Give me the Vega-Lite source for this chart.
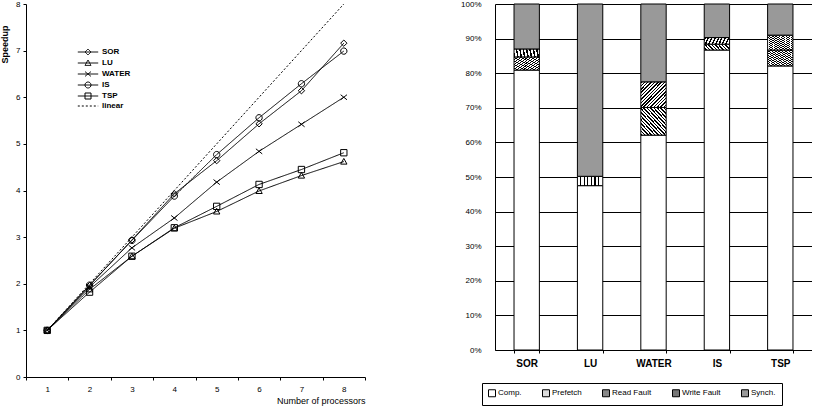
{
  "$schema": "https://vega.github.io/schema/vega-lite/v6.json",
  "padding": 0,
  "background": "white",
  "spacing": 94,
  "config": {
    "view": {"stroke": null},
    "font": "Liberation Sans",
    "axis": {"domainColor": "black", "tickColor": "black", "labelColor": "black", "titleColor": "black", "labelFont": "Liberation Sans", "titleFont": "Liberation Sans", "domainWidth": 1, "tickWidth": 1},
    "legend": {"labelFont": "Liberation Sans", "labelColor": "black"}
  },
  "hconcat": [
    {
      "width": 339,
      "height": 373,
      "data": {
        "values": [
          {"series": "SOR", "p": 1, "s": 1}, {"series": "SOR", "p": 2, "s": 1.96}, {"series": "SOR", "p": 3, "s": 2.94}, {"series": "SOR", "p": 4, "s": 3.93}, {"series": "SOR", "p": 5, "s": 4.64}, {"series": "SOR", "p": 6, "s": 5.43}, {"series": "SOR", "p": 7, "s": 6.14}, {"series": "SOR", "p": 8, "s": 7.16},
          {"series": "LU", "p": 1, "s": 1}, {"series": "LU", "p": 2, "s": 1.88}, {"series": "LU", "p": 3, "s": 2.59}, {"series": "LU", "p": 4, "s": 3.19}, {"series": "LU", "p": 5, "s": 3.55}, {"series": "LU", "p": 6, "s": 3.99}, {"series": "LU", "p": 7, "s": 4.32}, {"series": "LU", "p": 8, "s": 4.62},
          {"series": "WATER", "p": 1, "s": 1}, {"series": "WATER", "p": 2, "s": 1.93}, {"series": "WATER", "p": 3, "s": 2.77}, {"series": "WATER", "p": 4, "s": 3.41}, {"series": "WATER", "p": 5, "s": 4.18}, {"series": "WATER", "p": 6, "s": 4.84}, {"series": "WATER", "p": 7, "s": 5.42}, {"series": "WATER", "p": 8, "s": 6.0},
          {"series": "IS", "p": 1, "s": 1}, {"series": "IS", "p": 2, "s": 1.97}, {"series": "IS", "p": 3, "s": 2.93}, {"series": "IS", "p": 4, "s": 3.88}, {"series": "IS", "p": 5, "s": 4.77}, {"series": "IS", "p": 6, "s": 5.56}, {"series": "IS", "p": 7, "s": 6.29}, {"series": "IS", "p": 8, "s": 6.99},
          {"series": "TSP", "p": 1, "s": 1}, {"series": "TSP", "p": 2, "s": 1.82}, {"series": "TSP", "p": 3, "s": 2.59}, {"series": "TSP", "p": 4, "s": 3.2}, {"series": "TSP", "p": 5, "s": 3.66}, {"series": "TSP", "p": 6, "s": 4.13}, {"series": "TSP", "p": 7, "s": 4.45}, {"series": "TSP", "p": 8, "s": 4.81},
          {"series": "linear", "p": 1, "s": 1}, {"series": "linear", "p": 2, "s": 2}, {"series": "linear", "p": 3, "s": 3}, {"series": "linear", "p": 4, "s": 4}, {"series": "linear", "p": 5, "s": 5}, {"series": "linear", "p": 6, "s": 6}, {"series": "linear", "p": 7, "s": 7}, {"series": "linear", "p": 8, "s": 8}
        ]
      },
      "encoding": {
        "x": {
          "field": "p", "type": "ordinal", "bandPosition": 0.5,
          "scale": {"type": "band", "paddingInner": 0, "paddingOuter": 0},
          "axis": {"title": "Number of processors", "titleAnchor": "end", "titleFontSize": 9, "titleFontWeight": "normal", "titlePadding": 3, "labelAngle": 0, "labelFontSize": 8, "labelPadding": 5, "tickSize": 3, "tickBand": "extent", "grid": false}
        },
        "y": {
          "field": "s", "type": "quantitative",
          "scale": {"domain": [0, 8], "nice": false},
          "axis": {"title": "Speedup", "titleFontWeight": "bold", "titleFontSize": 9, "titleAngle": -90, "titleX": -22, "titleY": 40, "titleAlign": "center", "titleBaseline": "middle", "values": [0, 1, 2, 3, 4, 5, 6, 7, 8], "tickSize": 3, "labelFontSize": 8, "labelPadding": 3, "grid": false}
        }
      },
      "layer": [
        {
          "mark": {"type": "line", "color": "black"},
          "encoding": {
            "strokeDash": {
              "field": "series", "type": "nominal",
              "scale": {"domain": ["SOR", "LU", "WATER", "IS", "TSP", "linear"], "range": [[1, 0], [1, 0], [1, 0], [1, 0], [1, 0], [2, 2]]},
              "legend": {
                "orient": "none", "legendX": 58, "legendY": 44, "title": null,
                "symbolSize": 36, "symbolStrokeColor": "black", "symbolStrokeWidth": 1, "symbolFillColor": "transparent",
                "labelFontSize": 8, "labelFontWeight": "bold", "labelOffset": 10, "rowPadding": 1,
                "encode": {
                  "symbols": {
                    "update": {
                      "shape": {"signal": "datum.value === 'SOR' ? 'M-3.4,0H3.4M-1,0L0,-1L1,0L0,1Z' : datum.value === 'LU' ? 'M-3.4,0H3.4M0,-1L1,0.8L-1,0.8Z' : datum.value === 'WATER' ? 'M-3.4,0H3.4M-1,-0.8L1,0.8M-1,0.8L1,-0.8' : datum.value === 'IS' ? 'M-3.4,0H3.4M1,0A1,1,0,1,1,-1,0A1,1,0,1,1,1,0Z' : datum.value === 'TSP' ? 'M-3.4,0H3.4M-1,-1H1V1H-1Z' : 'M-3.4,0H3.4'"},
                      "stroke": {"value": "black"},
                      "fill": {"value": "transparent"}
                    }
                  }
                }
              }
            },
            "strokeWidth": {
              "field": "series", "type": "nominal",
              "scale": {"domain": ["SOR", "LU", "WATER", "IS", "TSP", "linear"], "range": [1, 1, 1, 1, 1, 1.6]},
              "legend": null
            }
          }
        },
        {
          "transform": [{"filter": "datum.series !== 'linear'"}],
          "mark": {"type": "point", "filled": false, "color": "black", "strokeWidth": 1, "opacity": 1},
          "encoding": {
            "shape": {
              "field": "series", "type": "nominal",
              "scale": {"domain": ["SOR", "LU", "WATER", "IS", "TSP"], "range": ["M-1,0L0,-1L1,0L0,1Z", "M0,-1L1,0.8L-1,0.8Z", "M-1,-0.8L1,0.8M-1,0.8L1,-0.8", "M1,0A1,1,0,1,1,-1,0A1,1,0,1,1,1,0Z", "M-1,-1H1V1H-1Z"]},
              "legend": null
            },
            "size": {"value": 40}
          }
        }
      ]
    },
    {
      "width": 317,
      "height": 346,
      "data": {
        "values": [
          {"app": "SOR", "comp": "Comp.", "k": 0, "v": 80.9},
          {"app": "SOR", "comp": "Read Fault", "k": 2, "v": 3.8},
          {"app": "SOR", "comp": "Write Fault", "k": 3, "v": 2.3},
          {"app": "SOR", "comp": "Synch.", "k": 4, "v": 13.0},
          {"app": "LU", "comp": "Comp.", "k": 0, "v": 47.5},
          {"app": "LU", "comp": "Prefetch", "k": 1, "v": 2.7},
          {"app": "LU", "comp": "Synch.", "k": 4, "v": 49.8},
          {"app": "WATER", "comp": "Comp.", "k": 0, "v": 62.1},
          {"app": "WATER", "comp": "Read Fault", "k": 2, "v": 8.0},
          {"app": "WATER", "comp": "Write Fault", "k": 3, "v": 7.4},
          {"app": "WATER", "comp": "Synch.", "k": 4, "v": 22.5},
          {"app": "IS", "comp": "Comp.", "k": 0, "v": 86.7},
          {"app": "IS", "comp": "Read Fault", "k": 2, "v": 1.7},
          {"app": "IS", "comp": "Write Fault", "k": 3, "v": 1.9},
          {"app": "IS", "comp": "Synch.", "k": 4, "v": 9.7},
          {"app": "TSP", "comp": "Comp.", "k": 0, "v": 82.1},
          {"app": "TSP", "comp": "Read Fault", "k": 2, "v": 4.6},
          {"app": "TSP", "comp": "Write Fault", "k": 3, "v": 4.3},
          {"app": "TSP", "comp": "Synch.", "k": 4, "v": 9.0}
        ]
      },
      "mark": {"type": "bar", "stroke": "black", "strokeWidth": 1},
      "encoding": {
        "x": {
          "field": "app", "type": "nominal", "sort": ["SOR", "LU", "WATER", "IS", "TSP"],
          "scale": {"paddingInner": 0.6, "paddingOuter": 0.3},
          "axis": {"title": null, "labelAngle": 0, "labelFontWeight": "bold", "labelFontSize": 10, "tickBand": "extent", "tickSize": 3, "labelPadding": 5}
        },
        "y": {
          "field": "v", "type": "quantitative", "stack": "zero",
          "scale": {"domain": [0, 100], "nice": false},
          "axis": {"title": null, "values": [0, 10, 20, 30, 40, 50, 60, 70, 80, 90, 100], "labelExpr": "datum.value + '%'", "grid": true, "gridColor": "black", "gridWidth": 1, "gridOpacity": 1, "ticks": false, "labelPadding": 14, "labelFontSize": 8}
        },
        "fill": {
          "field": "comp", "type": "nominal",
          "scale": {
            "domain": ["Comp.", "Prefetch", "Read Fault", "Write Fault", "Synch."],
            "range": ["white", "#dddddd", "#888888", "#777777", "#999999"]
          },
          "condition": [
            {"test": "datum.comp === 'Prefetch'", "value": {"gradient": "linear", "x1": 0, "y1": 0, "x2": 1, "y2": 0, "stops": [
                {"offset": 0, "color": "white"}, {"offset": 0.1, "color": "white"}, {"offset": 0.1, "color": "black"}, {"offset": 0.143, "color": "black"}, {"offset": 0.143, "color": "white"},
                {"offset": 0.243, "color": "white"}, {"offset": 0.243, "color": "black"}, {"offset": 0.286, "color": "black"}, {"offset": 0.286, "color": "white"},
                {"offset": 0.386, "color": "white"}, {"offset": 0.386, "color": "black"}, {"offset": 0.429, "color": "black"}, {"offset": 0.429, "color": "white"},
                {"offset": 0.529, "color": "white"}, {"offset": 0.529, "color": "black"}, {"offset": 0.571, "color": "black"}, {"offset": 0.571, "color": "white"},
                {"offset": 0.671, "color": "white"}, {"offset": 0.671, "color": "black"}, {"offset": 0.714, "color": "black"}, {"offset": 0.714, "color": "white"},
                {"offset": 0.814, "color": "white"}, {"offset": 0.814, "color": "black"}, {"offset": 0.857, "color": "black"}, {"offset": 0.857, "color": "white"},
                {"offset": 1, "color": "white"}
              ]}},
            {"test": "datum.comp === 'Read Fault'", "value": {"gradient": "linear", "x1": 0, "y1": 1, "x2": 1, "y2": 0, "stops": [
                {"offset": 0, "color": "black"}, {"offset": 0.03, "color": "black"}, {"offset": 0.03, "color": "white"}, {"offset": 0.0667, "color": "white"},
                {"offset": 0.0667, "color": "black"}, {"offset": 0.0967, "color": "black"}, {"offset": 0.0967, "color": "white"}, {"offset": 0.1333, "color": "white"},
                {"offset": 0.1333, "color": "black"}, {"offset": 0.1633, "color": "black"}, {"offset": 0.1633, "color": "white"}, {"offset": 0.2, "color": "white"},
                {"offset": 0.2, "color": "black"}, {"offset": 0.23, "color": "black"}, {"offset": 0.23, "color": "white"}, {"offset": 0.2667, "color": "white"},
                {"offset": 0.2667, "color": "black"}, {"offset": 0.2967, "color": "black"}, {"offset": 0.2967, "color": "white"}, {"offset": 0.3333, "color": "white"},
                {"offset": 0.3333, "color": "black"}, {"offset": 0.3633, "color": "black"}, {"offset": 0.3633, "color": "white"}, {"offset": 0.4, "color": "white"},
                {"offset": 0.4, "color": "black"}, {"offset": 0.43, "color": "black"}, {"offset": 0.43, "color": "white"}, {"offset": 0.4667, "color": "white"},
                {"offset": 0.4667, "color": "black"}, {"offset": 0.4967, "color": "black"}, {"offset": 0.4967, "color": "white"}, {"offset": 0.5333, "color": "white"},
                {"offset": 0.5333, "color": "black"}, {"offset": 0.5633, "color": "black"}, {"offset": 0.5633, "color": "white"}, {"offset": 0.6, "color": "white"},
                {"offset": 0.6, "color": "black"}, {"offset": 0.63, "color": "black"}, {"offset": 0.63, "color": "white"}, {"offset": 0.6667, "color": "white"},
                {"offset": 0.6667, "color": "black"}, {"offset": 0.6967, "color": "black"}, {"offset": 0.6967, "color": "white"}, {"offset": 0.7333, "color": "white"},
                {"offset": 0.7333, "color": "black"}, {"offset": 0.7633, "color": "black"}, {"offset": 0.7633, "color": "white"}, {"offset": 0.8, "color": "white"},
                {"offset": 0.8, "color": "black"}, {"offset": 0.83, "color": "black"}, {"offset": 0.83, "color": "white"}, {"offset": 0.8667, "color": "white"},
                {"offset": 0.8667, "color": "black"}, {"offset": 0.8967, "color": "black"}, {"offset": 0.8967, "color": "white"}, {"offset": 0.9333, "color": "white"},
                {"offset": 0.9333, "color": "black"}, {"offset": 0.9633, "color": "black"}, {"offset": 0.9633, "color": "white"}, {"offset": 1, "color": "white"}
              ]}},
            {"test": "datum.comp === 'Write Fault'", "value": {"gradient": "linear", "x1": 0, "y1": 0, "x2": 1, "y2": 1, "stops": [
                {"offset": 0, "color": "black"}, {"offset": 0.03, "color": "black"}, {"offset": 0.03, "color": "white"}, {"offset": 0.0667, "color": "white"},
                {"offset": 0.0667, "color": "black"}, {"offset": 0.0967, "color": "black"}, {"offset": 0.0967, "color": "white"}, {"offset": 0.1333, "color": "white"},
                {"offset": 0.1333, "color": "black"}, {"offset": 0.1633, "color": "black"}, {"offset": 0.1633, "color": "white"}, {"offset": 0.2, "color": "white"},
                {"offset": 0.2, "color": "black"}, {"offset": 0.23, "color": "black"}, {"offset": 0.23, "color": "white"}, {"offset": 0.2667, "color": "white"},
                {"offset": 0.2667, "color": "black"}, {"offset": 0.2967, "color": "black"}, {"offset": 0.2967, "color": "white"}, {"offset": 0.3333, "color": "white"},
                {"offset": 0.3333, "color": "black"}, {"offset": 0.3633, "color": "black"}, {"offset": 0.3633, "color": "white"}, {"offset": 0.4, "color": "white"},
                {"offset": 0.4, "color": "black"}, {"offset": 0.43, "color": "black"}, {"offset": 0.43, "color": "white"}, {"offset": 0.4667, "color": "white"},
                {"offset": 0.4667, "color": "black"}, {"offset": 0.4967, "color": "black"}, {"offset": 0.4967, "color": "white"}, {"offset": 0.5333, "color": "white"},
                {"offset": 0.5333, "color": "black"}, {"offset": 0.5633, "color": "black"}, {"offset": 0.5633, "color": "white"}, {"offset": 0.6, "color": "white"},
                {"offset": 0.6, "color": "black"}, {"offset": 0.63, "color": "black"}, {"offset": 0.63, "color": "white"}, {"offset": 0.6667, "color": "white"},
                {"offset": 0.6667, "color": "black"}, {"offset": 0.6967, "color": "black"}, {"offset": 0.6967, "color": "white"}, {"offset": 0.7333, "color": "white"},
                {"offset": 0.7333, "color": "black"}, {"offset": 0.7633, "color": "black"}, {"offset": 0.7633, "color": "white"}, {"offset": 0.8, "color": "white"},
                {"offset": 0.8, "color": "black"}, {"offset": 0.83, "color": "black"}, {"offset": 0.83, "color": "white"}, {"offset": 0.8667, "color": "white"},
                {"offset": 0.8667, "color": "black"}, {"offset": 0.8967, "color": "black"}, {"offset": 0.8967, "color": "white"}, {"offset": 0.9333, "color": "white"},
                {"offset": 0.9333, "color": "black"}, {"offset": 0.9633, "color": "black"}, {"offset": 0.9633, "color": "white"}, {"offset": 1, "color": "white"}
              ]}}
          ],
          "legend": {
            "orient": "none", "legendX": 456, "legendY": 379, "direction": "horizontal", "title": null,
            "strokeColor": "black", "padding": 6, "symbolType": "square", "symbolSize": 49,
            "symbolStrokeColor": "black", "symbolStrokeWidth": 1, "labelFontSize": 8, "columnPadding": 18, "labelOffset": 2,
            "encode": {
              "symbols": {
                "update": {
                  "fill": [
                    {"test": "datum.value === 'Prefetch'", "value": {"gradient": "linear", "x1": 0, "y1": 0, "x2": 1, "y2": 0, "stops": [
                      {"offset": 0, "color": "white"}, {"offset": 0.25, "color": "white"}, {"offset": 0.25, "color": "black"}, {"offset": 0.4, "color": "black"}, {"offset": 0.4, "color": "white"},
                      {"offset": 0.6, "color": "white"}, {"offset": 0.6, "color": "black"}, {"offset": 0.75, "color": "black"}, {"offset": 0.75, "color": "white"}, {"offset": 1, "color": "white"}
                    ]}},
                    {"test": "datum.value === 'Read Fault'", "value": {"gradient": "linear", "x1": 0, "y1": 1, "x2": 1, "y2": 0, "stops": [
                      {"offset": 0, "color": "white"}, {"offset": 0.2, "color": "white"}, {"offset": 0.2, "color": "black"}, {"offset": 0.35, "color": "black"}, {"offset": 0.35, "color": "white"},
                      {"offset": 0.65, "color": "white"}, {"offset": 0.65, "color": "black"}, {"offset": 0.8, "color": "black"}, {"offset": 0.8, "color": "white"}, {"offset": 1, "color": "white"}
                    ]}},
                    {"test": "datum.value === 'Write Fault'", "value": {"gradient": "linear", "x1": 0, "y1": 0, "x2": 1, "y2": 1, "stops": [
                      {"offset": 0, "color": "white"}, {"offset": 0.2, "color": "white"}, {"offset": 0.2, "color": "black"}, {"offset": 0.35, "color": "black"}, {"offset": 0.35, "color": "white"},
                      {"offset": 0.65, "color": "white"}, {"offset": 0.65, "color": "black"}, {"offset": 0.8, "color": "black"}, {"offset": 0.8, "color": "white"}, {"offset": 1, "color": "white"}
                    ]}},
                    {"scale": "fill", "field": "value"}
                  ],
                  "stroke": {"value": "black"}
                }
              }
            }
          }
        },
        "order": {"field": "k", "type": "quantitative"}
      }
    }
  ]
}
